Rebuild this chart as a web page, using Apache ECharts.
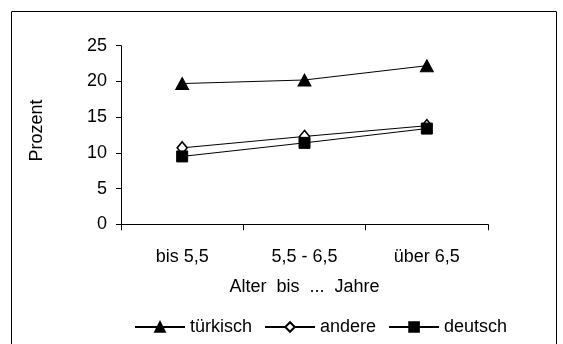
<!DOCTYPE html>
<html>
<head>
<meta charset="utf-8">
<script src="https://cdn.jsdelivr.net/npm/echarts@6/dist/echarts.min.js"></script>
<style>html,body{margin:0;padding:0;background:#fff}#c{width:563px;height:344px}</style>
</head>
<body>
<div id="c"></div>
<script>
const categories = ['bis 5,5', '5,5 - 6,5', 'über 6,5'];
const tuerkisch = [19.7, 20.2, 22.2];
const andere = [10.7, 12.3, 13.8];
const deutsch = [9.5, 11.4, 13.4];
const yTicks = [0, 5, 10, 15, 20, 25];

const font = 'Liberation Sans, Arial, sans-serif';
const fs = 18;
const chart = echarts.init(document.getElementById('c'), null, {renderer: 'canvas'});
chart.setOption({
  animation: false,
  backgroundColor: '#fff',
  graphic: [{
    type: 'rect', shape: {x: 11.5, y: 11.5, width: 545, height: 400},
    style: {fill: 'none', stroke: '#000', lineWidth: 1}, silent: true
  }],
  grid: {left: 121, top: 45.7, right: 75, bottom: 119.7, containLabel: false},
  legend: {
    bottom: 8, left: 134, padding: 0,
    itemWidth: 50, itemHeight: 12, itemGap: 12,
    textStyle: {fontFamily: font, fontSize: fs, color: '#000'},
    data: ['türkisch', 'andere', 'deutsch']
  },
  xAxis: {
    type: 'category', data: categories, boundaryGap: true,
    name: 'Alter  bis  ...  Jahre', nameLocation: 'middle', nameGap: 54,
    nameTextStyle: {fontFamily: font, fontSize: fs, color: '#000'},
    axisLine: {lineStyle: {color: '#000', width: 1}},
    axisTick: {show: true, length: 6, alignWithLabel: false, lineStyle: {color: '#000'}},
    axisLabel: {fontFamily: font, fontSize: fs, color: '#000', margin: 24},
    splitLine: {show: false}
  },
  yAxis: {
    type: 'value', min: yTicks[0], max: yTicks[yTicks.length - 1], interval: 5,
    name: 'Prozent', nameLocation: 'middle', nameGap: 75, nameRotate: 90,
    nameTextStyle: {fontFamily: font, fontSize: fs, color: '#000', padding: [0, 0, 0, 9]},
    axisLine: {show: true, lineStyle: {color: '#000', width: 1}},
    axisTick: {show: true, length: 5, lineStyle: {color: '#000'}},
    axisLabel: {fontFamily: font, fontSize: fs, color: '#000', margin: 14},
    splitLine: {show: false}
  },
  series: [
    {name: 'türkisch', type: 'line', data: tuerkisch, symbol: 'triangle', symbolSize: [13, 12],
     itemStyle: {color: '#000', borderColor: '#000', borderWidth: 1}, lineStyle: {color: '#000', width: 1}},
    {name: 'andere', type: 'line', data: andere, symbol: 'diamond', symbolSize: [10, 12],
     itemStyle: {color: '#fff', borderColor: '#000', borderWidth: 1.6}, lineStyle: {color: '#000', width: 1}},
    {name: 'deutsch', type: 'line', data: deutsch, symbol: 'rect', symbolSize: 11,
     itemStyle: {color: '#000', borderColor: '#000', borderWidth: 1}, lineStyle: {color: '#000', width: 1}}
  ]
});
</script>
</body>
</html>
